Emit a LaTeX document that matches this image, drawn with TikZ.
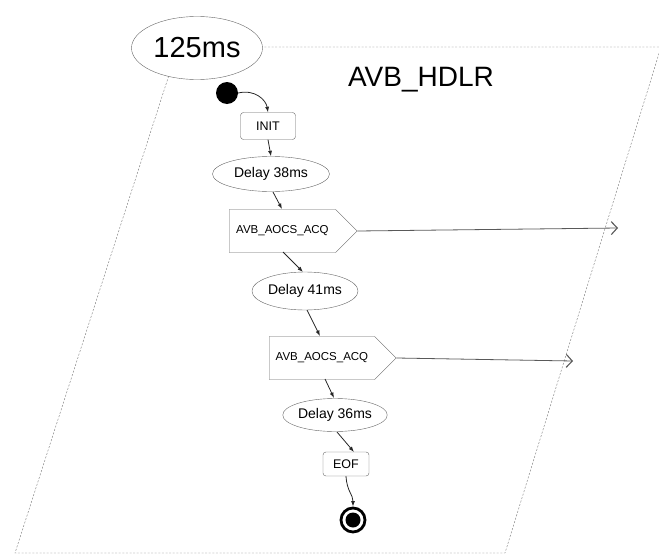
\documentclass[tikz,border=0pt]{standalone}
\usepackage{fontspec}
\setmainfont{Liberation Sans}
\usetikzlibrary{arrows.meta,shapes.geometric,shapes.symbols}

\begin{document}
\begin{tikzpicture}[
  x=1pt,y=-1pt,
  flow/.style={-{Latex[length=5.5pt,width=4pt]},line width=0.8pt,black!85},
  outarr/.style={-{Straight Barb[length=6pt,width=13pt,line width=1.1pt]},
    line width=0.8pt,black!65},
  state/.style={draw=black!60,rounded corners=3pt,fill=white,
    font=\fontsize{12.5}{14}\selectfont,minimum height=25pt},
  wait/.style={ellipse,draw=black!60,fill=white,inner sep=0pt,
    font=\fontsize{14}{16}\selectfont},
  send/.style={signal,signal to=east,signal pointer angle=90,draw=black!60,
    fill=white,minimum width=128pt,minimum height=43pt,anchor=west,
    font=\fontsize{11.5}{13}\selectfont},
  frame/.style={draw=black!55,dash pattern=on 2pt off 1.6pt,thin}
]
  \useasboundingbox (0,0) rectangle (659,554);

  % task frame
  \coordinate (tl) at (178,47);
  \coordinate (tr) at (661,47);
  \coordinate (br) at (505,553);
  \coordinate (bl) at (15,553);
  \draw[frame] (tl) -- (tr) -- (br) -- (bl) -- cycle;

  \node[ellipse,draw=black!60,fill=white,minimum width=131pt,minimum height=63pt,
    inner sep=0pt,font=\fontsize{29}{34}\selectfont] (period) at (197,48) {125ms};
  \node[font=\fontsize{28}{32}\selectfont] (task) at (421,80) {AVB\_HDLR};

  % flow
  \node[circle,fill=black,minimum size=22pt,inner sep=0pt] (start) at (227,93) {};
  \node[state,minimum width=55pt,minimum height=27pt] (init) at (268,126) {INIT};
  \node[wait,minimum width=117pt,minimum height=35pt] (d38) at (271,174) {Delay 38ms};
  \node[send] (acq1) at (229,231) {AVB\_AOCS\_ACQ};
  \node[wait,minimum width=106pt,minimum height=38pt] (d41) at (305,291) {Delay 41ms};
  \node[send,minimum width=127pt] (acq2) at (269,358) {AVB\_AOCS\_ACQ};
  \node[wait,minimum width=100pt,minimum height=33pt] (d36) at (335,415) {Delay 36ms};
  \node[state,minimum width=46pt,minimum height=24pt] (eof) at (346,464) {EOF};
  \node[circle,draw=black,line width=2.8pt,fill=white,minimum size=24pt,
    inner sep=0pt] (final) at (353,520) {};
  \fill (final.center) circle (7.5pt);

  \coordinate (out1) at (618,228);
  \coordinate (out2) at (573,361);

  \draw[flow] (start.east) .. controls (255,89) and (266,100) .. (init.north);
  \draw[flow] (init.south) -- (d38.north);
  \draw[flow] (273,192) -- (282,209);
  \draw[flow] (283,252) -- (303,272);
  \draw[flow] (307,310) -- (320,336);
  \draw[flow] (325,379) -- (334,398);
  \draw[flow] (337,432) -- (354,452);
  \draw[flow] (eof.south) .. controls (347,492) and (353,494) .. (final.north);

  \draw[outarr] (acq1.east) -- (out1);
  \draw[outarr] (acq2.east) -- (out2);
\end{tikzpicture}
\end{document}
